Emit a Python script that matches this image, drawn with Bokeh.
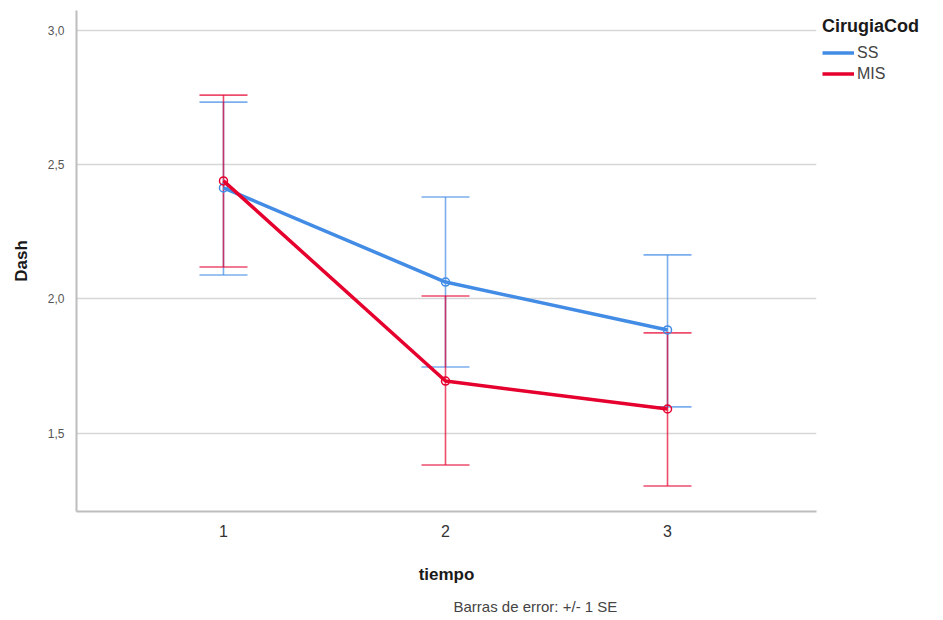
from bokeh.plotting import figure
from bokeh.models import (ColumnDataSource, Whisker, TeeHead, Legend, LegendItem,
                          FixedTicker, CustomJSTickFormatter, Title, Range1d)
from bokeh.embed import file_html
from bokeh.resources import INLINE

# ---- data ----
tiempo = [1, 2, 3]
ss_mean = [2.413, 2.063, 1.885]
ss_upper = [2.732, 2.379, 2.164]
ss_lower = [2.089, 1.747, 1.599]
mis_mean = [2.439, 1.695, 1.591]
mis_upper = [2.758, 2.011, 1.874]
mis_lower = [2.119, 1.383, 1.305]
y_ticks = [1.5, 2.0, 2.5, 3.0]
groups = ["SS", "MIS"]

FONT = "Liberation Sans"
SS_COL = "#428ce6"
MIS_COL = "#e6002d"

p = figure(frame_width=740, frame_height=501, output_backend="svg", toolbar_location=None,
           x_range=Range1d(0.338, 3.671), y_range=Range1d(1.21, 3.0725),
           min_border_left=76, min_border_top=10, min_border_bottom=2,
           min_border_right=119)
p.outline_line_color = None
p.background_fill_color = "white"

src_ss = ColumnDataSource(dict(x=tiempo, y=ss_mean, up=ss_upper, lo=ss_lower))
src_mis = ColumnDataSource(dict(x=tiempo, y=mis_mean, up=mis_upper, lo=mis_lower))

def add_whisker(src, col):
    w = Whisker(source=src, base="x", upper="up", lower="lo", dimension="height",
                line_color=col, line_alpha=0.7, line_width=1.6, level="underlay",
                upper_head=TeeHead(size=48, line_color=col, line_alpha=0.7, line_width=1.6),
                lower_head=TeeHead(size=48, line_color=col, line_alpha=0.7, line_width=1.6))
    p.add_layout(w)

add_whisker(src_ss, SS_COL)
add_whisker(src_mis, MIS_COL)

r_ss = p.line("x", "y", source=src_ss, line_color=SS_COL, line_width=3.5)
c_ss = p.scatter("x", "y", source=src_ss, size=8, fill_color=None,
                 line_color=SS_COL, line_width=1.5)
r_mis = p.line("x", "y", source=src_mis, line_color=MIS_COL, line_width=3.5)
c_mis = p.scatter("x", "y", source=src_mis, size=8, fill_color=None,
                  line_color=MIS_COL, line_width=1.5)

# axes
p.xaxis.ticker = FixedTicker(ticks=tiempo)
p.yaxis.ticker = FixedTicker(ticks=y_ticks)
p.yaxis.formatter = CustomJSTickFormatter(code="return tick.toFixed(1).replace('.', ',');")
for ax in (p.xaxis[0], p.yaxis[0]):
    ax.axis_line_color = "#bdbdbd"
    ax.axis_line_width = 2
    ax.major_tick_line_color = None
    ax.minor_tick_line_color = None
    ax.major_label_text_font = FONT
    ax.axis_label_text_font = FONT
    ax.axis_label_text_font_style = "bold"
    ax.axis_label_text_font_size = "17px"
    ax.axis_label_text_color = "#1a1a1a"
p.xaxis.major_label_text_font_size = "16px"
p.xaxis.major_label_text_color = "#333333"
p.xaxis.major_label_standoff = 7
p.xaxis.axis_label = "tiempo"
p.xaxis.axis_label_standoff = 25
p.yaxis.major_label_text_font_size = "12px"
p.yaxis.major_label_text_color = "#555555"
p.yaxis.major_label_standoff = 6
p.yaxis.axis_label = "Dash"
p.yaxis.axis_label_standoff = 14

p.xgrid.grid_line_color = None
p.ygrid.grid_line_color = "#d6d6d6"
p.ygrid.grid_line_width = 1.5

# footer
footer = Title(text="Barras de error: +/- 1 SE", align="left", offset=377,
               text_font=FONT, text_font_size="15px", text_color="#444444",
               text_font_style="normal", standoff=18)
p.add_layout(footer, "below")

# legend
legend = Legend(items=[LegendItem(label=groups[0], renderers=[r_ss]),
                       LegendItem(label=groups[1], renderers=[r_mis])],
                title="CirugiaCod", title_text_font=FONT, title_text_font_style="bold",
                title_text_font_size="18px", title_text_color="#1a1a1a",
                title_standoff=5,
                label_text_font=FONT, label_text_font_size="16px",
                label_text_color="#444444", label_height=21, label_standoff=3,
                glyph_width=32, glyph_height=21, spacing=0, padding=0,
                margin=6, border_line_color=None, background_fill_alpha=0,
                location="top_left")
p.add_layout(legend, "right")

open("out.html", "w").write(file_html(p, INLINE))
